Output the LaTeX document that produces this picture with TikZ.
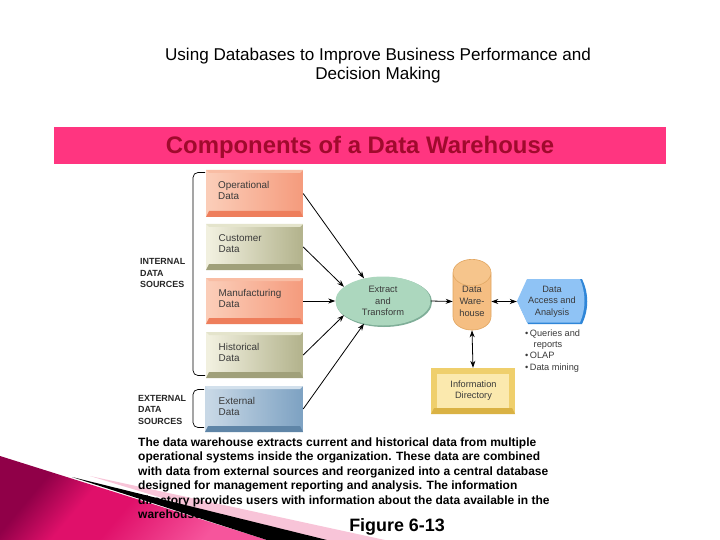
\documentclass[tikz,border=0pt]{standalone}
\usepackage{fontspec}
\setmainfont{Liberation Sans}
\usetikzlibrary{shapes.geometric,arrows.meta}
\definecolor{txt}{HTML}{3A3A3A}
\definecolor{bandc}{HTML}{FF3580}
\definecolor{bandt}{HTML}{A00A2D}
\definecolor{orL}{HTML}{FBCDB8}\definecolor{orR}{HTML}{F59C7E}\definecolor{orT}{HTML}{F9BDA4}\definecolor{orB}{HTML}{EE7E5C}
\definecolor{olL}{HTML}{F1F0DF}\definecolor{olR}{HTML}{B4B48E}\definecolor{olT}{HTML}{E4E4CC}\definecolor{olB}{HTML}{A0A07A}
\definecolor{blL}{HTML}{C8D8E6}\definecolor{blR}{HTML}{7FA3C3}\definecolor{blT}{HTML}{D2E0EC}\definecolor{blB}{HTML}{5F85A7}
\definecolor{yeL}{HTML}{FBE9AE}\definecolor{yeT}{HTML}{EFCF6C}\definecolor{yeB}{HTML}{DAB244}
\definecolor{grS}{HTML}{7FAE98}\definecolor{grF}{HTML}{ACD7BE}
\definecolor{cyD}{HTML}{E1A55F}\definecolor{cyB}{HTML}{F5BE82}\definecolor{cyE}{HTML}{F6C58C}
\definecolor{acS}{HTML}{2F86D8}\definecolor{acF}{HTML}{8FC3F5}
\definecolor{wedgeA}{HTML}{900048}\definecolor{wedgeM}{HTML}{E0106A}\definecolor{wedgeB}{HTML}{F6559C}\definecolor{streak}{HTML}{F8C4D8}
\pgfdeclareverticalshading{cornershade}{100bp}{color(0bp)=(wedgeB); color(28bp)=(wedgeB); color(50bp)=(wedgeM); color(60bp)=(wedgeM); color(72bp)=(wedgeA); color(100bp)=(wedgeA)}
\tikzset{
  conn/.style={draw=black,line width=0.8pt,-{Stealth[length=7pt,width=5pt]}},
  biconn/.style={draw=black,line width=0.8pt,{Stealth[length=7pt,width=5pt]}-{Stealth[length=7pt,width=5pt]}},
  brace/.style={draw=black,line width=0.7pt,rounded corners=5pt},
  boxlabel/.style={anchor=west,align=left,inner sep=0pt,text=txt,font=\fontsize{9.9}{11}\selectfont},
  sidelabel/.style={anchor=north west,align=left,inner sep=0pt,text=black!85,font=\bfseries\fontsize{8.9}{11.5}\selectfont},
  plainbox/.style={inner sep=0pt,draw=none},
}
% name, x0,y0,x1,y1, face left, face right, top, bottom
\newcommand{\bevelbox}[9]{%
  \fill[#7] (#2,#3) rectangle (#4,#5);
  \fill[#6] (#2,#3) rectangle (#2+3,#5);
  \path[left color=#6,right color=#7] (#2+3,#3+3) rectangle (#4-3,#5-6);
  \fill[#8] (#2,#3) -- (#4,#3) -- (#4-3,#3+3) -- (#2+3,#3+3) -- cycle;
  \fill[#9] (#2,#5) -- (#4,#5) -- (#4-3,#5-6) -- (#2+3,#5-6) -- cycle;
  \node[plainbox,minimum width=#4pt-#2pt,minimum height=#5pt-#3pt] (#1) at ({(#2+#4)/2},{(#3+#5)/2}) {};
}
\begin{document}
\begin{tikzpicture}[x=1pt,y=-1pt]
\useasboundingbox (0,0) rectangle (720,540);
\fill[white] (0,0) rectangle (720,540);

% corner decoration (behind the text)
\fill[streak] (90,476) -- (385,540) -- (300,540) -- cycle;
\path[shading=cornershade,shading angle=50] (0,456) -- (267,540) -- (0,540) -- cycle;

% headings
\node[inner sep=0pt,align=center,font=\fontsize{17.1}{19}\selectfont] (heading) at (378,65.5)
  {Using Databases to Improve Business Performance and\\Decision Making};
\fill[bandc] (54,127) rectangle (666,164);
\node[inner sep=0pt,text=bandt,font=\bfseries\fontsize{23.9}{26}\selectfont] (band) at (360,147)
  {Components of a Data Warehouse};

% source boxes
\bevelbox{op}{206}{170}{303}{217}{orL}{orR}{orT}{orB}
\bevelbox{cu}{206}{224}{303}{270}{olL}{olR}{olT}{olB}
\bevelbox{ma}{206}{278}{303}{324}{orL}{orR}{orT}{orB}
\bevelbox{hi}{206}{332}{303}{378}{olL}{olR}{olT}{olB}
\bevelbox{ex}{205}{386}{303}{432}{blL}{blR}{blT}{blB}
\bevelbox{in}{431}{368}{515}{414}{yeT}{yeT}{yeT}{yeB}
\fill[yeL] (437,374) rectangle (509,408);

\node[boxlabel] (opt) at (218,190.5) {Operational\\Data};
\node[boxlabel] (cut) at (218.5,244) {Customer\\Data};
\node[boxlabel] (mat) at (218.5,298.5) {Manufacturing\\Data};
\node[boxlabel] (hit) at (218.5,352) {Historical\\Data};
\node[boxlabel] (ext) at (218.5,406) {External\\Data};
\node[boxlabel,anchor=center,align=center,font=\fontsize{9.2}{11}\selectfont] (int) at (473.5,391) {Information\\Directory};

% brackets
\coordinate (b1a) at (205,172.5);
\coordinate (b1b) at (205,375.5);
\coordinate (b1c) at (193,172.5);
\coordinate (b1d) at (193,375.5);
\draw[brace] (b1a) -- (b1c) -- (b1d) -- (b1b);
\coordinate (b2a) at (204,389.5);
\coordinate (b2b) at (204,427.5);
\coordinate (b2c) at (193,389.5);
\coordinate (b2d) at (193,427.5);
\draw[brace] (b2a) -- (b2c) -- (b2d) -- (b2b);
\node[sidelabel] (il) at (140,258.5) {INTERNAL\\DATA\\SOURCES};
\node[sidelabel] (el) at (138,395) {EXTERNAL\\DATA\\SOURCES};

% extract and transform
\fill[grS] (384,302) ellipse [x radius=48,y radius=25];
\node[ellipse,fill=grF,inner sep=0pt,minimum width=95pt,minimum height=49pt,align=center,text=txt,font=\fontsize{9.3}{11.5}\selectfont] (et) at (383,301)
  {Extract\\and\\Transform};

% warehouse
\node[cylinder,shape border rotate=90,aspect=1.05,draw=cyD,line width=0.6pt,cylinder uses custom fill,cylinder body fill=cyB,cylinder end fill=cyE,minimum width=38pt,minimum height=70pt,inner sep=0pt,align=center,text=txt,font=\fontsize{9.3}{12}\selectfont] (dw) at (472,301.5)
  {Data\\Ware-\\house};

% access and analysis
\fill[acS] (517.5,301.5) -- (528,279) -- (582,279) .. controls (589,293) and (589,310) .. (582,324) -- (528,324) -- cycle;
\fill[acF] (517,301) -- (527,279) -- (580,279) .. controls (586,293) and (586,309) .. (580,322.5) -- (527,322.5) -- cycle;
\node[plainbox,minimum width=70pt,minimum height=45pt,align=center,text=txt,font=\fontsize{9.2}{11.5}\selectfont] (da) at (552,301.5)
  {Data\\Access and\\Analysis};
\node[anchor=north west,inner sep=0pt,align=left,text=txt,font=\fontsize{9.2}{11.3}\selectfont] (bl) at (525,329.5)
  {\textbullet\hspace{1.5pt}Queries and\\\hspace{8.5pt}reports\\\textbullet\hspace{1.5pt}OLAP\\\textbullet\hspace{1.5pt}Data mining};

% connectors
\draw[conn] (op.east) -- (et.130);
\draw[conn] (cu.east) -- (et.160);
\draw[conn] (ma.east |- et.west) -- (et.west);
\draw[conn] (hi.east) -- (et.200);
\draw[conn] (ex.east) -- (et.230);
\draw[conn] (et.east) -- (dw.west);
\draw[biconn] (dw.east) -- (da.west);
\draw[biconn] (dw.south) -- (in.north);

% caption
\node[anchor=north west,inner sep=0pt,align=left,font=\bfseries\fontsize{12}{14.5}\selectfont] (cap) at (138,437.5)
  {The data warehouse extracts current and historical data from multiple\\
   operational systems inside the organization. These data are combined\\
   with data from external sources and reorganized into a central database\\
   designed for management reporting and analysis. The information\\
   directory provides users with information about the data available in the\\
   warehouse.};
\node[inner sep=0pt,font=\bfseries\fontsize{17.9}{20}\selectfont] (fig) at (397,526.5) {Figure 6-13};

% black stripe (over the text)
\fill[black] (72,477) -- (327,540) -- (267,540) -- cycle;
\end{tikzpicture}
\end{document}
